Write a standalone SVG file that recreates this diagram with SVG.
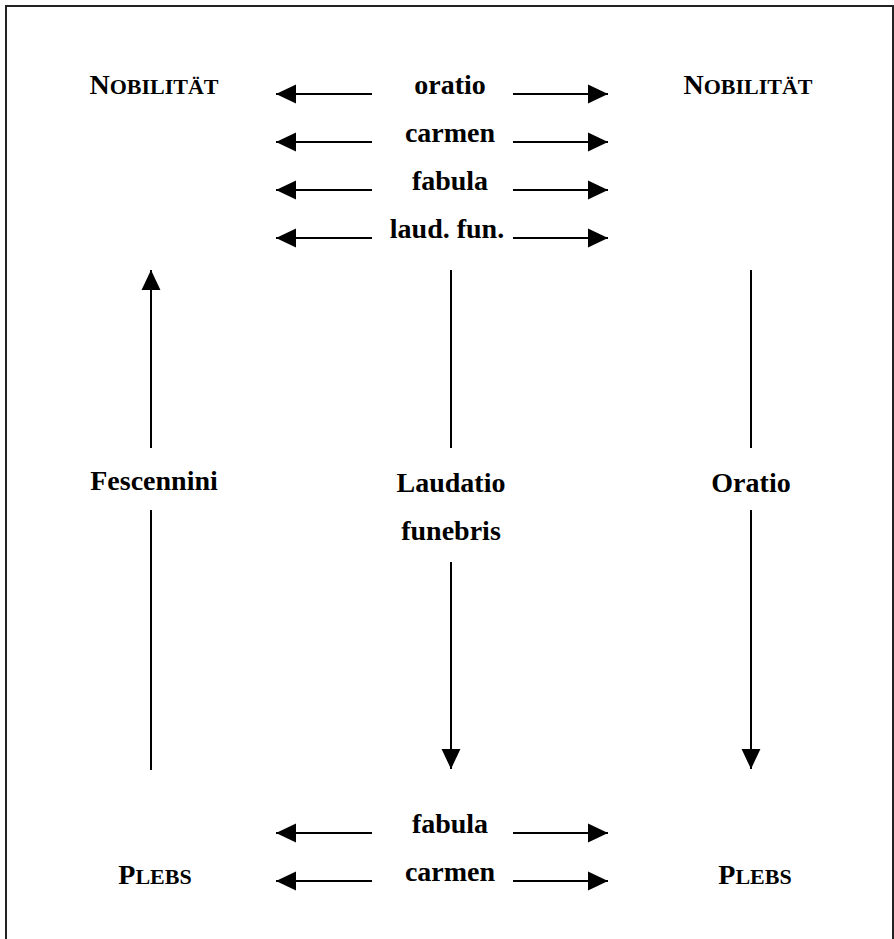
<svg xmlns="http://www.w3.org/2000/svg" width="894" height="939" viewBox="0 0 894 939">
<style>
.t{font-family:"Liberation Serif","Times New Roman",serif;font-weight:bold;font-size:28px;fill:#000;text-anchor:middle}
.sc{font-size:22px}
.ln{stroke:#000;stroke-width:2;fill:none}
</style>
<defs>
<marker id="ah" markerUnits="userSpaceOnUse" markerWidth="20" markerHeight="20" viewBox="0 0 18 18" refX="18" refY="9" orient="auto">
<path d="M0,0.5 L18,9 L0,17.5 Z" fill="#000"/>
</marker>
</defs>
<rect width="894" height="939" fill="#fff"/>
<path d="M6,940 V6 H893 V940" fill="none" stroke="#222" stroke-width="2"/>
<g id="nob-left"><text class="t" x="154" y="94">N<tspan class="sc">OBILITÄT</tspan></text></g>
<g id="nob-right"><text class="t" x="748" y="94">N<tspan class="sc">OBILITÄT</tspan></text></g>
<g id="lbl-oratio"><text class="t" x="450" y="94">oratio</text></g>
<g id="lbl-carmen1"><text class="t" x="450" y="142">carmen</text></g>
<g id="lbl-fabula1"><text class="t" x="450" y="190">fabula</text></g>
<g id="lbl-laudfun"><text class="t" x="447" y="238">laud. fun.</text></g>
<g id="fescennini"><text class="t" x="154" y="490">Fescennini</text></g>
<g id="laudatio"><text class="t" x="451" y="492">Laudatio</text><text class="t" x="451" y="540">funebris</text></g>
<g id="oratio"><text class="t" x="751" y="492">Oratio</text></g>
<g id="lbl-fabula2"><text class="t" x="450" y="833">fabula</text></g>
<g id="lbl-carmen2"><text class="t" x="450" y="881">carmen</text></g>
<g id="plebs-left"><text class="t" x="155" y="884">P<tspan class="sc">LEBS</tspan></text></g>
<g id="plebs-right"><text class="t" x="755" y="884">P<tspan class="sc">LEBS</tspan></text></g>
<g id="connectors">
<line class="ln" x1="372" y1="94" x2="276" y2="94" marker-end="url(#ah)"/>
<line class="ln" x1="513" y1="94" x2="608" y2="94" marker-end="url(#ah)"/>
<line class="ln" x1="372" y1="142" x2="276" y2="142" marker-end="url(#ah)"/>
<line class="ln" x1="513" y1="142" x2="608" y2="142" marker-end="url(#ah)"/>
<line class="ln" x1="372" y1="190" x2="276" y2="190" marker-end="url(#ah)"/>
<line class="ln" x1="513" y1="190" x2="608" y2="190" marker-end="url(#ah)"/>
<line class="ln" x1="372" y1="238" x2="276" y2="238" marker-end="url(#ah)"/>
<line class="ln" x1="513" y1="238" x2="608" y2="238" marker-end="url(#ah)"/>
<line class="ln" x1="372" y1="833" x2="276" y2="833" marker-end="url(#ah)"/>
<line class="ln" x1="513" y1="833" x2="608" y2="833" marker-end="url(#ah)"/>
<line class="ln" x1="372" y1="881" x2="276" y2="881" marker-end="url(#ah)"/>
<line class="ln" x1="513" y1="881" x2="608" y2="881" marker-end="url(#ah)"/>
<line class="ln" x1="151" y1="770" x2="151" y2="510"/>
<line class="ln" x1="151" y1="448" x2="151" y2="270" marker-end="url(#ah)"/>
<line class="ln" x1="451" y1="270" x2="451" y2="448"/>
<line class="ln" x1="451" y1="562" x2="451" y2="769" marker-end="url(#ah)"/>
<line class="ln" x1="751" y1="270" x2="751" y2="448"/>
<line class="ln" x1="751" y1="510" x2="751" y2="769" marker-end="url(#ah)"/>
</g>
</svg>
